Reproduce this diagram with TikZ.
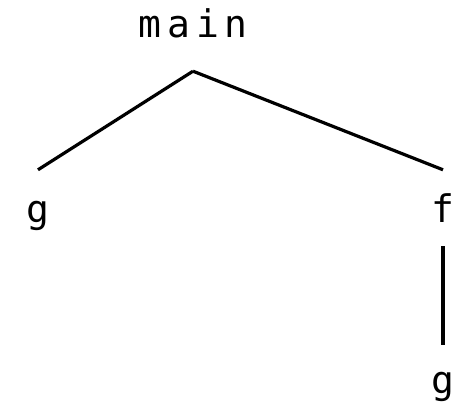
\documentclass[tikz,border=0pt]{standalone}
\usepackage{fontspec}
\newfontfamily\codefont{DejaVu Sans Mono}[LetterSpace=16]
\begin{document}
\begin{tikzpicture}[x=1pt,y=1pt,
  lbl/.style={font=\codefont\fontsize{38}{44}\selectfont, inner sep=0pt, anchor=base},
  edge/.style={line width=3.2pt}]
\useasboundingbox (0,0) rectangle (457,411);
\node[lbl, text depth=33pt] (main) at (193,373) {main};
\node[lbl, text height=53pt] (g1) at (38,188) {g};
\node[lbl, text height=53pt, text depth=23pt] (f) at (443,188) {f};
\node[lbl, text height=49pt] (g2) at (443,17) {g};
\draw[edge] (main.south) -- (g1.north);
\draw[edge] (main.south) -- (f.north);
\draw[edge] (f.south) -- (g2.north);
\end{tikzpicture}
\end{document}
